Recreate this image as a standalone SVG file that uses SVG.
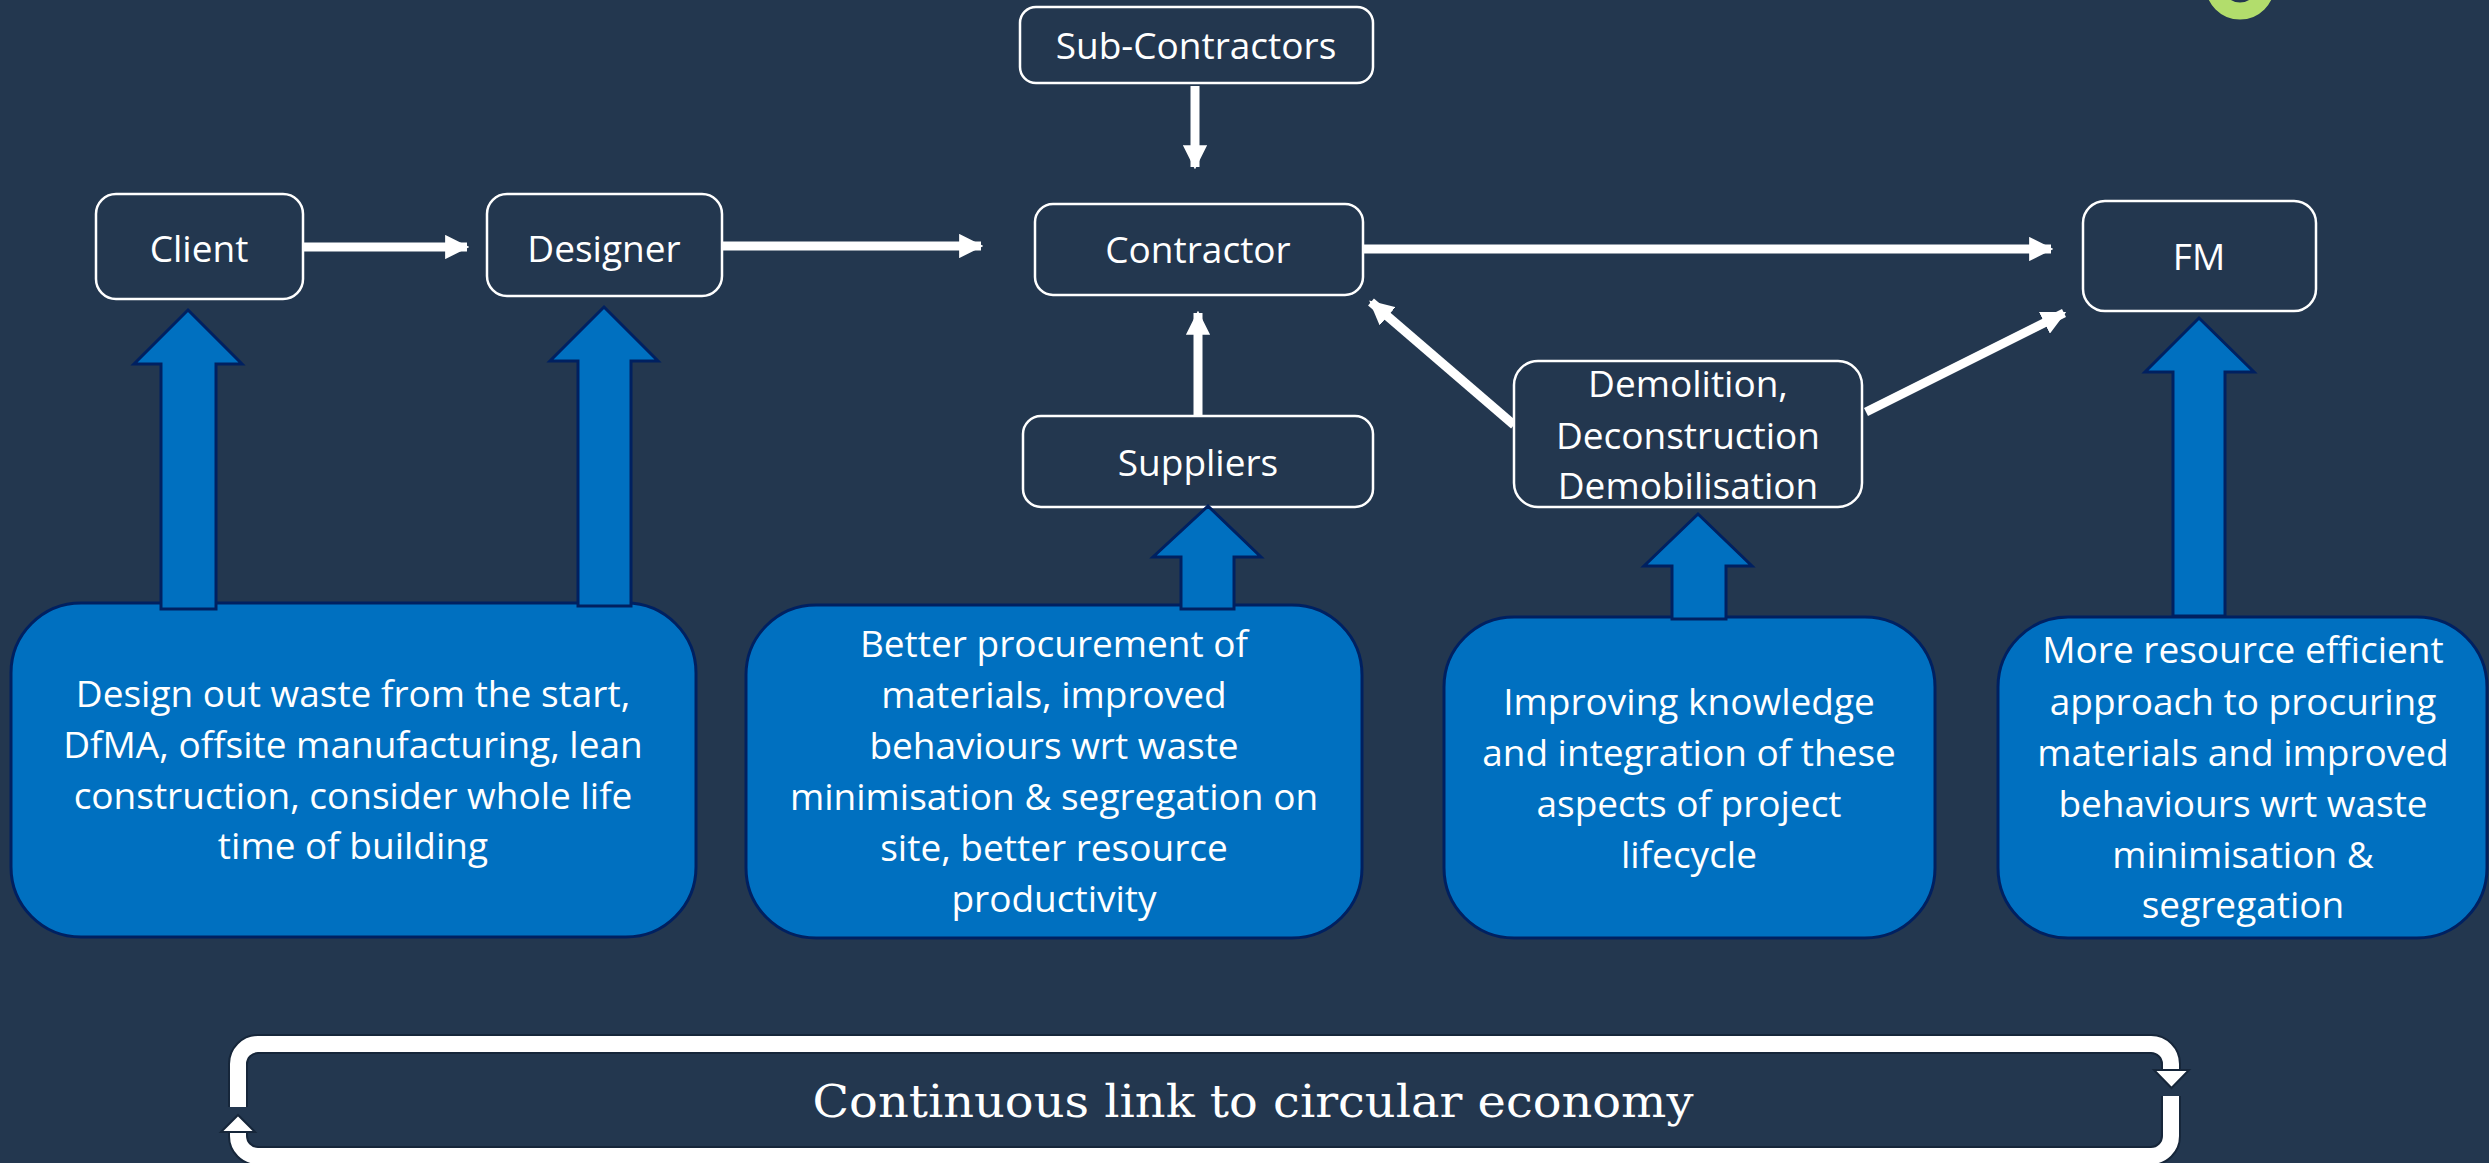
<svg xmlns="http://www.w3.org/2000/svg" width="2489" height="1163" viewBox="0 0 2489 1163">
<defs>
<style>
.node rect{fill:#23374f;stroke:#ffffff;stroke-width:2.5}
.lbl{font-family:"Open Sans","Liberation Sans",sans-serif;font-size:37px;fill:#ffffff;text-anchor:middle}
.info rect{fill:#0070c0;stroke:#002060;stroke-width:3}
.blk{fill:#0070c0;stroke:#002060;stroke-width:3;stroke-linejoin:miter}
.wire{stroke:#ffffff;stroke-width:9;fill:none}
.loop{stroke:#ffffff;stroke-width:16;fill:none}
.loopedge{stroke:#16263a;stroke-width:20;fill:none}
</style>
<marker id="ah" viewBox="0 0 10 10" refX="9" refY="5" markerWidth="2.7" markerHeight="2.7" orient="auto" markerUnits="strokeWidth">
<path d="M0,0 L10,5 L0,10 z" fill="#ffffff"/>
</marker>
</defs>
<rect x="0" y="0" width="2489" height="1163" fill="#23374f"/>
<circle cx="2240" cy="-15" r="26" fill="none" stroke="#b2dd6c" stroke-width="17"/>

<g id="connectors">
<line class="wire" x1="303" y1="247" x2="467" y2="247" marker-end="url(#ah)"/>
<line class="wire" x1="722" y1="246" x2="981" y2="246" marker-end="url(#ah)"/>
<line class="wire" x1="1363" y1="249" x2="2051" y2="249" marker-end="url(#ah)"/>
<line class="wire" x1="1195" y1="86" x2="1195" y2="167" marker-end="url(#ah)"/>
<line class="wire" x1="1198" y1="416" x2="1198" y2="313" marker-end="url(#ah)"/>
<line class="wire" x1="1514" y1="425" x2="1371" y2="302" marker-end="url(#ah)"/>
<line class="wire" x1="1866" y1="412" x2="2064" y2="313" marker-end="url(#ah)"/>
</g>

<g id="node-subcontractors" class="node"><rect x="1020" y="7" width="353" height="76" rx="16"/><text class="lbl" x="1196" y="59">Sub-Contractors</text></g>
<g id="node-client" class="node"><rect x="96" y="194" width="207" height="105" rx="20"/><text class="lbl" x="199" y="262">Client</text></g>
<g id="node-designer" class="node"><rect x="487" y="194" width="235" height="102" rx="20"/><text class="lbl" x="604" y="262">Designer</text></g>
<g id="node-contractor" class="node"><rect x="1035" y="204" width="328" height="91" rx="18"/><text class="lbl" x="1198" y="263">Contractor</text></g>
<g id="node-fm" class="node"><rect x="2083" y="201" width="233" height="110" rx="22"/><text class="lbl" x="2199" y="270">FM</text></g>
<g id="node-suppliers" class="node"><rect x="1023" y="416" width="350" height="91" rx="18"/><text class="lbl" x="1198" y="476">Suppliers</text></g>
<g id="node-demolition" class="node"><rect x="1514" y="361" width="348" height="146" rx="24"/><text class="lbl" x="1688" y="397">Demolition,</text><text class="lbl" x="1688" y="449">Deconstruction</text><text class="lbl" x="1688" y="499">Demobilisation</text></g>

<g id="info-design" class="info"><rect x="11" y="603" width="685" height="334" rx="70"/>
<text class="lbl" x="353" y="707">Design out waste from the start,</text>
<text class="lbl" x="353" y="758">DfMA, offsite manufacturing, lean</text>
<text class="lbl" x="353" y="809">construction, consider whole life</text>
<text class="lbl" x="353" y="859">time of building</text></g>
<g id="info-procurement" class="info"><rect x="746" y="605" width="616" height="333" rx="70"/>
<text class="lbl" x="1054" y="657">Better procurement of</text>
<text class="lbl" x="1054" y="708">materials, improved</text>
<text class="lbl" x="1054" y="759">behaviours wrt waste</text>
<text class="lbl" x="1054" y="810">minimisation &amp; segregation on</text>
<text class="lbl" x="1054" y="861">site, better resource</text>
<text class="lbl" x="1054" y="912">productivity</text></g>
<g id="info-knowledge" class="info"><rect x="1444" y="617" width="491" height="321" rx="70"/>
<text class="lbl" x="1689" y="715">Improving knowledge</text>
<text class="lbl" x="1689" y="766">and integration of these</text>
<text class="lbl" x="1689" y="817">aspects of project</text>
<text class="lbl" x="1689" y="868">lifecycle</text></g>
<g id="info-fm" class="info"><rect x="1998" y="617" width="489" height="321" rx="70"/>
<text class="lbl" x="2243" y="663">More resource efficient</text>
<text class="lbl" x="2243" y="715">approach to procuring</text>
<text class="lbl" x="2243" y="766">materials and improved</text>
<text class="lbl" x="2243" y="817">behaviours wrt waste</text>
<text class="lbl" x="2243" y="868">minimisation &amp;</text>
<text class="lbl" x="2243" y="918">segregation</text></g>

<g id="block-arrows">
<polygon class="blk" points="188,310 242,364 216,364 216,609 161,609 161,364 134,364"/>
<polygon class="blk" points="604,307 658,361 631,361 631,606 578,606 578,361 550,361"/>
<polygon class="blk" points="1208,506 1261,557 1234,557 1234,609 1181,609 1181,557 1153,557"/>
<polygon class="blk" points="1698,514 1752,566 1726,566 1726,619 1672,619 1672,566 1644,566"/>
<polygon class="blk" points="2199,318 2254,372 2225,372 2225,616 2173,616 2173,372 2145,372"/>
</g>

<g id="circular-link">
<path class="loopedge" d="M238,1107 V1064 A20,20 0 0 1 258,1044 H2151 A20,20 0 0 1 2171,1064 V1071"/>
<path class="loopedge" d="M2171,1096 V1136 A20,20 0 0 1 2151,1156 H258 A20,20 0 0 1 238,1136 V1131"/>
<path class="loop" d="M238,1107 V1064 A20,20 0 0 1 258,1044 H2151 A20,20 0 0 1 2171,1064 V1071"/>
<path class="loop" d="M2171,1096 V1136 A20,20 0 0 1 2151,1156 H258 A20,20 0 0 1 238,1136 V1131"/>
<polygon points="2154,1070 2189,1070 2171.5,1088" fill="#ffffff" stroke="#16263a" stroke-width="2"/>
<polygon points="221,1132 255,1132 238,1115" fill="#ffffff" stroke="#16263a" stroke-width="2"/>
<text x="1253" y="1117" font-family="'DejaVu Serif',serif" font-size="44" fill="#ffffff" text-anchor="middle" textLength="881" lengthAdjust="spacingAndGlyphs">Continuous link to circular economy</text>
</g>
</svg>
